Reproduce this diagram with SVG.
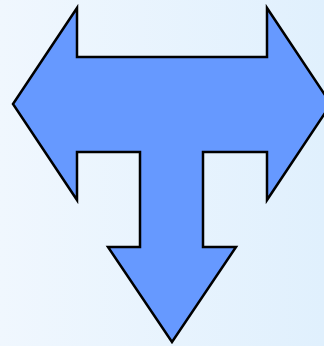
<svg xmlns="http://www.w3.org/2000/svg" width="324" height="346" viewBox="0 0 324 346">
<defs>
<linearGradient id="bg" x1="0" y1="0" x2="1" y2="0">
<stop offset="0" stop-color="#f0f7fe"/>
<stop offset="1" stop-color="#e0f0fd"/>
</linearGradient>
<style>.arrow{fill:#6699ff;stroke:#000;stroke-width:2.5;stroke-linejoin:miter}</style>
</defs>
<rect width="324" height="346" fill="url(#bg)"/>
<g id="arrow">
<path class="arrow" d="M13,104 L77,8 L77,57 L267,57 L267,8 L331,104 L267,200 L267,152 L203,152 L203,247 L236,247 L172,342 L108,247 L140,247 L140,152 L77,152 L77,200 Z"/>
</g>
</svg>
